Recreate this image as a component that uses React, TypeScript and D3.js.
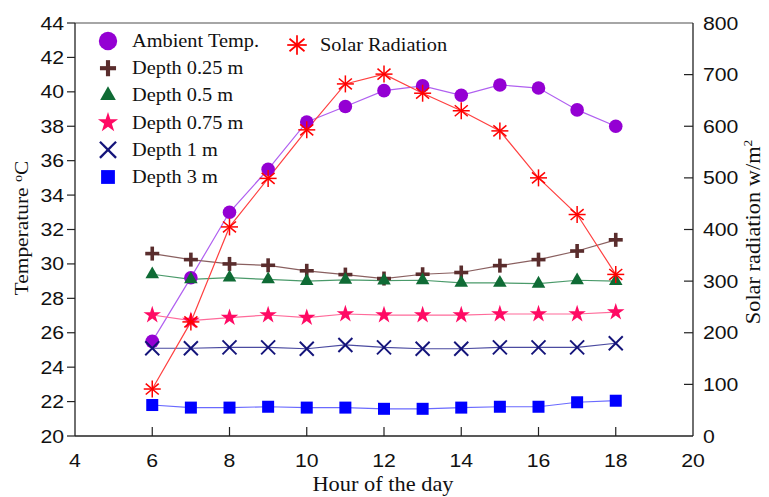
import React from "react";
import * as d3 from "d3";

const hours = [6, 7, 8, 9, 10, 11, 12, 13, 14, 15, 16, 17, 18];
const ambient = [25.5, 29.2, 33.0, 35.5, 38.25, 39.15, 40.07, 40.35, 39.8, 40.4, 40.22, 38.95, 38.0];
const depth025 = [30.6, 30.25, 30.0, 29.92, 29.6, 29.38, 29.15, 29.4, 29.5, 29.9, 30.25, 30.75, 31.4];
const depth05 = [29.4, 29.1, 29.2, 29.1, 29.0, 29.07, 29.03, 29.05, 28.9, 28.9, 28.85, 29.05, 29.0];
const depth075 = [27.03, 26.7, 26.88, 27.03, 26.88, 27.09, 27.03, 27.03, 27.03, 27.09, 27.09, 27.09, 27.2];
const depth1 = [25.1, 25.1, 25.15, 25.15, 25.07, 25.29, 25.15, 25.07, 25.07, 25.15, 25.15, 25.15, 25.39];
const depth3 = [21.8, 21.65, 21.65, 21.7, 21.65, 21.65, 21.58, 21.58, 21.65, 21.7, 21.7, 21.96, 22.05];
const solar = [91, 221, 405, 499, 593, 682, 701, 664, 630, 591, 500, 429, 313];

const xTicks = [4, 6, 8, 10, 12, 14, 16, 18, 20];
const yLeftTicks = [20, 22, 24, 26, 28, 30, 32, 34, 36, 38, 40, 42, 44];
const yRightTicks = [0, 100, 200, 300, 400, 500, 600, 700, 800];

const L = 75, R = 693, T = 23, B = 436;
const x = d3.scaleLinear().domain([4, 20]).range([L, R]);
const yL = d3.scaleLinear().domain([20, 44]).range([B, T]);
const yR = d3.scaleLinear().domain([0, 800]).range([B, T]);

type Marker = "circle" | "plus" | "triangle" | "star" | "x" | "square" | "asterisk";

const series = [
  { name: "Ambient Temp.", data: ambient, color: "#9400d3", line: "#b060f0", marker: "circle" as Marker, axis: "L" },
  { name: "Depth 0.25 m", data: depth025, color: "#5a2d2d", line: "#8a6060", marker: "plus" as Marker, axis: "L" },
  { name: "Depth 0.5 m", data: depth05, color: "#0f6b35", line: "#4a9a6a", marker: "triangle" as Marker, axis: "L" },
  { name: "Depth 0.75 m", data: depth075, color: "#ff0a64", line: "#ff6a9a", marker: "star" as Marker, axis: "L" },
  { name: "Depth 1 m", data: depth1, color: "#14147a", line: "#4a4aa0", marker: "x" as Marker, axis: "L" },
  { name: "Depth 3 m", data: depth3, color: "#0000ff", line: "#6a6aff", marker: "square" as Marker, axis: "L" },
  { name: "Solar Radiation", data: solar, color: "#ff0000", line: "#ff4040", marker: "asterisk" as Marker, axis: "R" },
];

function MarkerShape({ kind, cx, cy, color, scale = 1 }: { kind: Marker; cx: number; cy: number; color: string; scale?: number }) {
  const t = `translate(${cx},${cy}) scale(${scale})`;
  if (kind === "circle") return <circle cx={cx} cy={cy} r={6.8 * scale} fill={color} />;
  if (kind === "plus")
    return (
      <g transform={t} stroke={color} strokeWidth={3.6}>
        <line x1={-7} y1={0} x2={7} y2={0} />
        <line x1={0} y1={-7} x2={0} y2={7} />
      </g>
    );
  if (kind === "triangle") return <path transform={t} d={d3.symbol().type(d3.symbolTriangle).size(80)()!} fill={color} />;
  if (kind === "star") return <path transform={t} d={d3.symbol().type(d3.symbolStar).size(95)()!} fill={color} />;
  if (kind === "square") return <rect x={cx - 6 * scale} y={cy - 6 * scale} width={12 * scale} height={12 * scale} fill={color} />;
  if (kind === "x")
    return (
      <g transform={t} stroke={color} strokeWidth={2}>
        <line x1={-7} y1={-7} x2={7} y2={7} />
        <line x1={-7} y1={7} x2={7} y2={-7} />
      </g>
    );
  // asterisk
  return (
    <g transform={t} stroke={color} strokeWidth={1.5}>
      {[0, 40, 90, 140].map((a) => {
        const r = 8.5;
        const dx = r * Math.cos((a * Math.PI) / 180);
        const dy = r * Math.sin((a * Math.PI) / 180);
        return <line key={a} x1={-dx} y1={-dy} x2={dx} y2={dy} />;
      })}
    </g>
  );
}

const sx = 1.18;

export default function App() {
  return (
    <svg width={769} height={497} style={{ position: "absolute", left: 0, top: 0, background: "#fff" }}>
      <line x1={L} y1={T} x2={R} y2={T} stroke="#888" strokeWidth={1.3} />
      <line x1={L} y1={T} x2={L} y2={B} stroke="#222" strokeWidth={1.3} />
      <line x1={R} y1={T} x2={R} y2={B} stroke="#222" strokeWidth={1.3} />
      <line x1={L} y1={B} x2={R} y2={B} stroke="#222" strokeWidth={1.3} />

      {yLeftTicks.map((v) => (
        <g key={"l" + v}>
          <line x1={L - 8} y1={yL(v)} x2={L} y2={yL(v)} stroke="#222" strokeWidth={1.2} />
          <text
            transform={`translate(${L - 11},${yL(v) + 6.5}) scale(${sx},1)`}
            textAnchor="end"
            fontFamily="Liberation Sans, Arial, sans-serif"
            fontSize={18}
            fill="#111"
          >
            {v}
          </text>
        </g>
      ))}
      {yRightTicks.map((v) => (
        <g key={"r" + v}>
          {v > 0 && v < 800 && <line x1={R - 9} y1={yR(v)} x2={R} y2={yR(v)} stroke="#222" strokeWidth={1.2} />}
          <text
            transform={`translate(${R + 10},${yR(v) + 6.5}) scale(${sx},1)`}
            textAnchor="start"
            fontFamily="Liberation Sans, Arial, sans-serif"
            fontSize={18}
            fill="#111"
          >
            {v}
          </text>
        </g>
      ))}
      {xTicks.map((v) => (
        <g key={"x" + v}>
          {v > 4 && v < 20 && <line x1={x(v)} y1={B - 9} x2={x(v)} y2={B} stroke="#222" strokeWidth={1.2} />}
          <text
            transform={`translate(${x(v)},${B + 31}) scale(${sx},1)`}
            textAnchor="middle"
            fontFamily="Liberation Sans, Arial, sans-serif"
            fontSize={18}
            fill="#111"
          >
            {v}
          </text>
        </g>
      ))}

      <text
        transform={`translate(383,491) scale(1.12,1)`}
        textAnchor="middle"
        fontFamily="Liberation Serif, Times New Roman, serif"
        fontSize={20}
        fill="#111"
      >
        Hour of the day
      </text>
      <text
        transform={`translate(28,228) rotate(-90) scale(1.1,1)`}
        textAnchor="middle"
        fontFamily="Liberation Serif, Times New Roman, serif"
        fontSize={19.5}
        fill="#111"
      >
        Temperature <tspan dy={-6} fontSize={13}>o</tspan>
        <tspan dy={6}>C</tspan>
      </text>
      <text
        transform={`translate(760,232) rotate(-90) scale(1.12,1)`}
        textAnchor="middle"
        fontFamily="Liberation Serif, Times New Roman, serif"
        fontSize={20}
        fill="#111"
      >
        Solar radiation w/m<tspan dy={-8} fontSize={12}>2</tspan>
      </text>

      {series.map((s) => {
        const ys = s.axis === "L" ? yL : yR;
        const path = d3
          .line<number>()
          .x((_, i) => x(hours[i]))
          .y((d) => ys(d))(s.data);
        return <path key={"p" + s.name} d={path!} fill="none" stroke={s.line} strokeWidth={1.2} />;
      })}
      {series.map((s) => {
        const ys = s.axis === "L" ? yL : yR;
        return (
          <g key={"m" + s.name}>
            {s.data.map((d, i) => (
              <MarkerShape key={i} kind={s.marker} cx={x(hours[i])} cy={ys(d)} color={s.color} />
            ))}
          </g>
        );
      })}

      {series.slice(0, 6).map((s, i) => {
        const cy = 41 + i * 27.2;
        return (
          <g key={"lg" + s.name}>
            <MarkerShape kind={s.marker} cx={108} cy={cy} color={s.color} scale={s.marker === "circle" ? 1.35 : 1.15} />
            <text
              transform={`translate(132,${cy + 6}) scale(1.1,1)`}
              fontFamily="Liberation Serif, Times New Roman, serif"
              fontSize={18.5}
              fill="#111"
            >
              {s.name}
            </text>
          </g>
        );
      })}
      <MarkerShape kind="asterisk" cx={297} cy={45} color="#ff0000" scale={1.15} />
      <text
        transform={`translate(320,${45 + 6}) scale(1.1,1)`}
        fontFamily="Liberation Serif, Times New Roman, serif"
        fontSize={18.5}
        fill="#111"
      >
        Solar Radiation
      </text>
    </svg>
  );
}
